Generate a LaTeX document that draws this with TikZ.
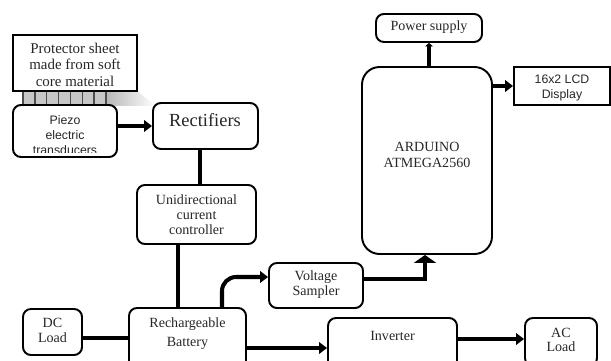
\documentclass[tikz,border=0pt]{standalone}
\usepackage{fontspec}
\setmainfont{Liberation Serif}
\setsansfont{Liberation Sans}
\usetikzlibrary{arrows.meta}

\begin{document}
\begin{tikzpicture}[x=0.02cm, y=-0.02cm,
    box/.style={draw, line width=1.1pt, rounded corners=4.5pt, inner sep=0pt},
    wd/.style={minimum width=#1*\px},
    ht/.style={minimum height=#1*\px},
    lbl/.style={inner sep=0pt, align=center, text=black!85, font=\fontsize{8}{8.5}\selectfont},
    link/.style={line width=2.3pt},
    arr/.style={-{Triangle[length=4.5pt, width=6.5pt]}},
    bigarr/.style={-{Triangle[length=4.5pt, width=12.5pt]}}]

	% Pixel unit
	\def\px{0.02cm}

	\useasboundingbox (0,0) rectangle (611,361);
	\clip (0,0) rectangle (611,361);

	% Comb between sheet and transducers
	\shade[left color=gray!55, right color=white] (107,91) -- (137,91) -- (156,106) -- (107,106) -- cycle;
	\fill[gray!45] (22,91) rectangle (107,105);
	\foreach \x in {23, 34.9, 46.7, 58.6, 70.4, 82.3, 94.1, 106}
		\draw[black!70, line width=0.8pt] (\x, 91) -- (\x, 105);

	% Boxes
	\node[box, sharp corners, wd=124, ht=56] (sheet) at (75, 63) {};
	\node[box, wd=104, ht=52] (piezo) at (65, 131) {};
	\node[box, wd=105, ht=46] (rect) at (205.5, 126) {};
	\node[box, wd=119, ht=59] (uni) at (196.5, 214.5) {};
	\node[box, wd=117, ht=64] (batt) at (187.5, 340) {};
	\node[box, wd=59, ht=46] (dc) at (52.5, 332) {};
	\node[box, wd=94, ht=45] (volt) at (316, 285.5) {};
	\node[box, wd=129, ht=60] (inv) at (392.5, 348) {};
	\node[box, wd=72, ht=48] (ac) at (561, 342) {};
	\node[box, rounded corners=10pt, wd=130, ht=187] (ard) at (427, 160.5) {};
	\node[box, wd=106, ht=28] (ps) at (429, 28) {};
	\node[box, sharp corners, wd=96, ht=38] (lcd) at (562, 86) {};

	% Labels
	\node[lbl, font=\fontsize{8.5}{9.4}\selectfont] (sheetlbl) at (75, 64.5) {Protector sheet\\made from soft\\core material};
	\begin{scope}
		\clip (piezo.north west) rectangle ([yshift=5*\px]piezo.south east);
		\node[lbl, font=\sffamily\fontsize{7}{8.5}\selectfont] (piezolbl) at (65, 135) {Piezo\\electric\\transducers};
	\end{scope}
	\node[lbl, font=\fontsize{10.5}{12}\selectfont] (rectlbl) at (205, 120.5) {Rectifiers};
	\node[lbl] (unilbl) at (196.5, 215) {Unidirectional\\current\\controller};
	\node[lbl, font=\fontsize{8}{10.8}\selectfont] (battlbl) at (187.5, 333.5) {Rechargeable\\Battery};
	\node[lbl] (dclbl) at (52.5, 330.5) {DC\\Load};
	\node[lbl] (voltlbl) at (316, 284.5) {Voltage\\Sampler};
	\node[lbl] (invlbl) at (392.5, 336) {Inverter};
	\node[lbl, font=\fontsize{8}{8}\selectfont] (aclbl) at (561, 340) {AC\\Load};
	\node[lbl, font=\fontsize{8}{9}\selectfont] (ardlbl) at (427, 155) {ARDUINO\\ATMEGA2560};
	\node[lbl] (pslbl) at (429, 27) {Power supply};
	\node[lbl, font=\sffamily\fontsize{7}{9}\selectfont] (lcdlbl) at (562, 88) {16x2 LCD\\Display};

	% Connections
	\draw[link, arr] (piezo.east |- rect.west) -- (rect.west);
	\draw[link] ([xshift=-5.5*\px]rect.south) -- ([xshift=-5.5*\px]rect.south |- uni.north);
	\draw[link, line width=2.7pt] ([xshift=-18.5*\px]uni.south) -- ([xshift=-18.5*\px]uni.south |- batt.north);
	\draw[link] ([yshift=2*\px]batt.west) -- ([yshift=2*\px]batt.west -| dc.east);
	\draw[link, arr, rounded corners=8pt] ([xshift=34.5*\px]batt.north) |- ([yshift=8.5*\px]volt.west);
	\draw[link, bigarr] ([yshift=6.5*\px]volt.east) -| ([xshift=-2*\px]ard.south);
	\draw[link, arr] ([yshift=-8*\px]batt.east) -- ([yshift=-8*\px]batt.east -| inv.west);
	\draw[link, arr] ([yshift=9*\px]inv.east) -- ([yshift=9*\px]inv.east -| ac.west);
	\draw[link, arr] (ard.east |- lcd.west) -- (lcd.west);
	\draw[link, -{Triangle[length=2pt, width=4.5pt]}] (ard.north -| ps.south) -- (ps.south);

\end{tikzpicture}
\end{document}
